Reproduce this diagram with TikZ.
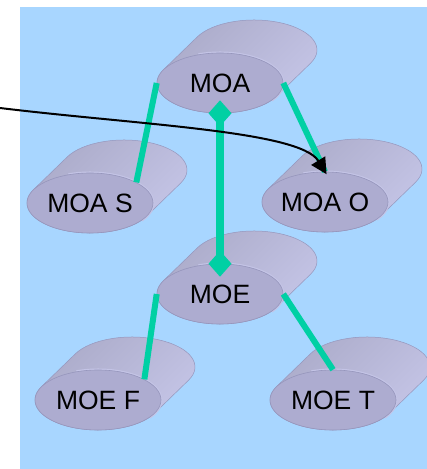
\documentclass[tikz,border=0pt]{standalone}
\usepackage{fontspec}
\setmainfont{Liberation Sans}
\usetikzlibrary{shapes.geometric,arrows.meta}
\definecolor{bg}{RGB}{168,214,255}
\definecolor{face}{RGB}{173,172,208}
\definecolor{faceedge}{RGB}{150,150,188}
\definecolor{backL}{RGB}{170,170,200}
\definecolor{backM}{RGB}{147,147,175}
\definecolor{backR}{RGB}{198,198,232}
\definecolor{rim}{RGB}{196,196,230}
\definecolor{linkc}{RGB}{0,208,164}
\tikzset{
  disk/.style={ellipse, inner sep=0pt, minimum width=126pt, minimum height=60pt,
    fill=face, draw=faceedge, line width=0.6pt, font=\fontsize{26.5}{31}\selectfont},
  diskback/.style={top color=backL, middle color=backM, bottom color=backR,
    shading angle=45, draw=faceedge, line width=0.5pt},
  rimline/.style={draw=rim, line width=3pt},
  link/.style={draw=linkc, line width=6pt},
  spine/.style={draw=linkc, line width=8pt},
  diamondtip/.style={fill=linkc},
  pointer/.style={draw=black, line width=2pt, -{Triangle[length=16pt,width=16pt]},
    shorten >=-3pt},
}
\newcommand\mydiskback[2]{%
  \path[diskback] ({#1-56.6},{#2+13.2}) -- ++(34,33)
    arc[start angle=153.9,end angle=-26.1,x radius=63pt,y radius=30pt]
    -- ({#1+56.6},{#2-13.2})
    arc[start angle=-26.1,end angle=-206.1,x radius=63pt,y radius=30pt] -- cycle;
  \path[rimline] ({#1+63*cos(110)},{#2+30*sin(110)})
    arc[start angle=110,end angle=-35,x radius=63pt,y radius=30pt];}
\begin{document}
\begin{tikzpicture}[x=1pt,y=1pt]
\useasboundingbox (0,0) rectangle (427,469);
\fill[bg] (20,0) rectangle (427,462);
% back parts of the disks
\mydiskback{220}{386}
\mydiskback{90}{266}
\mydiskback{325}{267}
\mydiskback{220}{175}
\mydiskback{98}{69}
\mydiskback{333}{69}
% front faces
\node[disk] (moa)  at (220,386) {MOA};
\node[disk] (moas) at (90,266)  {MOA S};
\node[disk] (moao) at (325,267) {MOA O};
\node[disk] (moe)  at (220,175) {MOE};
\node[disk] (moef) at (98,69)   {MOE F};
\node[disk] (moet) at (333,69)  {MOE T};
% connectors
\draw[link] (moa.west) -- (moas.24);
\draw[link] (moa.east) -- (moao.north);
\draw[link] (moe.west) -- (moef.24);
\draw[link] (moe.east) -- (moet.north);
\draw[spine] (moa.south) -- (moe.north);
\fill[diamondtip, shift={(moa.south)}] (0,13) -- (11.5,0) -- (0,-13) -- (-11.5,0) -- cycle;
\fill[diamondtip, shift={(moe.north)}] (0,13) -- (11.5,0) -- (0,-13) -- (-11.5,0) -- cycle;
\coordinate (src) at (0,361);
\draw[pointer] (src) .. controls (140,344) and (300,338) .. (moao.north);
\end{tikzpicture}
\end{document}
